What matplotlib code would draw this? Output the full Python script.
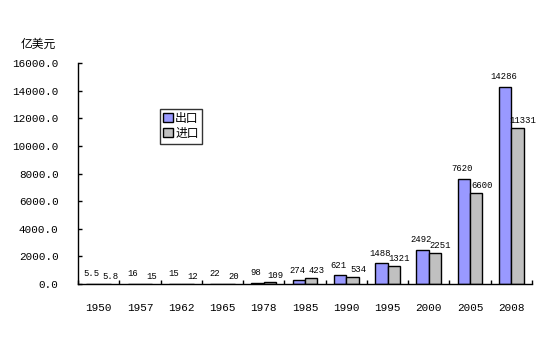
import numpy as np
import matplotlib.pyplot as plt
from matplotlib.ticker import FormatStrFormatter

years = ['1950', '1957', '1962', '1965', '1978', '1985', '1990', '1995', '2000', '2005', '2008']
exports = [5.5, 16, 15, 22, 98, 274, 621, 1488, 2492, 7620, 14286]
imports = [5.8, 15, 12, 20, 109, 423, 534, 1321, 2251, 6600, 11331]

plt.rcParams['font.family'] = ['Liberation Mono', 'Noto Sans CJK SC', 'DejaVu Sans']

fig = plt.figure(figsize=(5.54, 3.52), dpi=100)
ax = fig.add_axes([0.1408, 0.1932, 0.8195, 0.627])

x = np.arange(len(years))
w = 0.3
ax.bar(x - w / 2, exports, w, color='#9999FF', edgecolor='black', linewidth=1, label='出口')
ax.bar(x + w / 2, imports, w, color='#C0C0C0', edgecolor='black', linewidth=1, label='进口')

# data labels
for xi, v in zip(x, exports):
    ax.annotate(f'{v:g}', (xi - w / 2, v), xytext=(-1, 4), textcoords='offset points',
                ha='center', va='bottom', fontsize=6.4)
for xi, v in zip(x, imports):
    ax.annotate(f'{v:g}', (xi + w / 2, v), xytext=(4, 2), textcoords='offset points',
                ha='center', va='bottom', fontsize=6.4)

ax.set_xlim(-0.5, len(years) - 0.5)
ax.set_ylim(0, 16000)
ax.set_yticks(np.arange(0, 16001, 2000))
ax.yaxis.set_major_formatter(FormatStrFormatter('%.1f'))
ax.set_xticks(np.arange(-0.5, len(years), 1))
ax.set_xticklabels([])
ax.set_xticks(x, minor=True)
ax.set_xticklabels(years, minor=True)
ax.tick_params(axis='x', which='major', direction='in', length=3, width=1)
ax.tick_params(axis='x', which='minor', length=0, pad=14, labelsize=7.9)
ax.tick_params(axis='y', direction='in', length=3, width=1, pad=14, labelsize=7.9)

for s in ['top', 'right']:
    ax.spines[s].set_visible(False)
for s in ['left', 'bottom']:
    ax.spines[s].set_linewidth(1)

fig.text(38 / 554, 1 - 45 / 352, '亿美元', ha='center', va='center', fontsize=8.5)

leg = ax.legend(loc='upper left', bbox_to_anchor=(0.18, 0.793), fontsize=8.5,
                frameon=True, fancybox=False, shadow=False, handlelength=0.8,
                handleheight=0.8, handletextpad=0.2, borderpad=0.3, labelspacing=0.3,
                borderaxespad=0)
leg.get_frame().set_edgecolor('black')
leg.get_frame().set_linewidth(1)

fig.savefig('out.png', dpi=100)
